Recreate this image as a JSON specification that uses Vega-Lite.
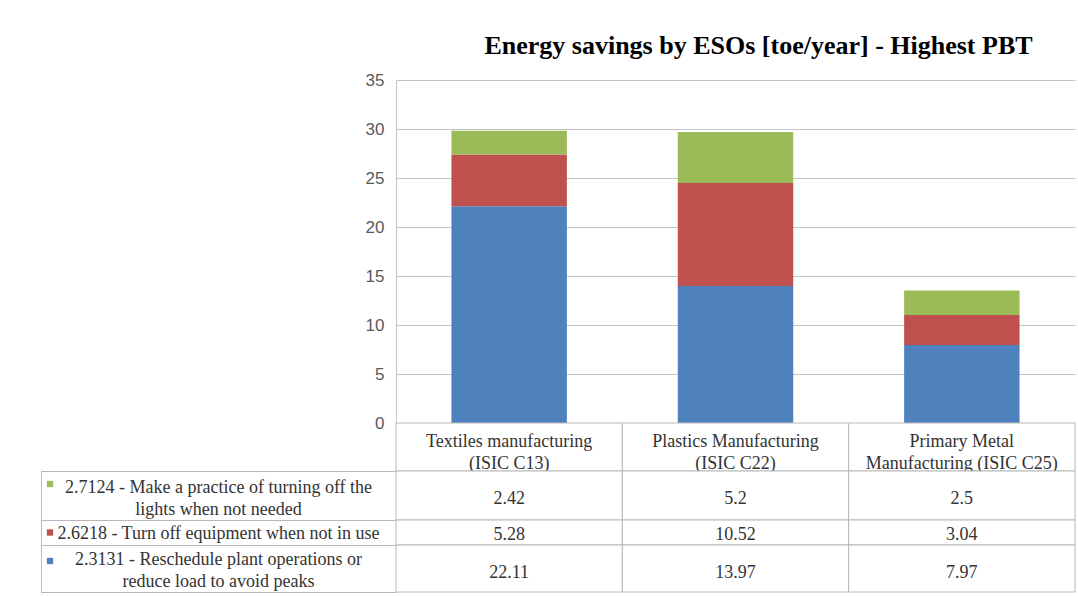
{
  "$schema": "https://vega.github.io/schema/vega-lite/v6.json",
  "background": "white",
  "padding": {"left": 40, "top": 33, "right": 2, "bottom": 0},
  "config": {
    "view": {"stroke": null},
    "font": "Liberation Serif",
    "text": {"font": "Liberation Serif", "fontSize": 18, "color": "#333333", "lineBreak": "\n", "lineHeight": 22}
  },
  "datasets": {
    "savings": [
      {"industry": "Textiles manufacturing\n(ISIC C13)", "eso": "2.3131 - Reschedule plant operations or\nreduce load to avoid peaks", "toe": 22.11},
      {"industry": "Textiles manufacturing\n(ISIC C13)", "eso": "2.6218 - Turn off equipment when not in use", "toe": 5.28},
      {"industry": "Textiles manufacturing\n(ISIC C13)", "eso": "2.7124 - Make a practice of turning off the\nlights when not needed", "toe": 2.42},
      {"industry": "Plastics Manufacturing\n(ISIC C22)", "eso": "2.3131 - Reschedule plant operations or\nreduce load to avoid peaks", "toe": 13.97},
      {"industry": "Plastics Manufacturing\n(ISIC C22)", "eso": "2.6218 - Turn off equipment when not in use", "toe": 10.52},
      {"industry": "Plastics Manufacturing\n(ISIC C22)", "eso": "2.7124 - Make a practice of turning off the\nlights when not needed", "toe": 5.2},
      {"industry": "Primary Metal\nManufacturing (ISIC C25)", "eso": "2.3131 - Reschedule plant operations or\nreduce load to avoid peaks", "toe": 7.97},
      {"industry": "Primary Metal\nManufacturing (ISIC C25)", "eso": "2.6218 - Turn off equipment when not in use", "toe": 3.04},
      {"industry": "Primary Metal\nManufacturing (ISIC C25)", "eso": "2.7124 - Make a practice of turning off the\nlights when not needed", "toe": 2.5}
    ]
  },
  "columns": 2,
  "spacing": 0,
  "bounds": "flush",
  "concat": [
    {
      "width": 355, "height": 343,
      "data": {"values": [{}]},
      "mark": {"type": "text"},
      "encoding": {"text": {"value": ""}}
    },
    {
      "width": 679, "height": 343,
      "title": {
        "text": "Energy savings by ESOs [toe/year] - Highest PBT",
        "font": "Liberation Serif", "fontSize": 26, "fontWeight": "bold", "color": "#000000",
        "anchor": "middle", "dx": 23, "offset": 12
      },
      "data": {"name": "savings"},
      "mark": {"type": "bar", "width": {"band": 0.51}},
      "encoding": {
        "x": {"field": "industry", "type": "nominal", "sort": null,
              "scale": {"paddingInner": 0, "paddingOuter": 0}, "axis": null},
        "y": {"field": "toe", "type": "quantitative", "stack": "zero",
              "scale": {"domain": [0, 35], "nice": false},
              "axis": {"values": [0, 5, 10, 15, 20, 25, 30, 35], "title": null, "grid": true,
                       "gridColor": "#c4c4c4", "domainColor": "#c4c4c4", "ticks": false,
                       "labelFont": "Liberation Sans", "labelFontSize": 17, "labelColor": "#595959",
                       "labelPadding": 12}},
        "order": {"field": "eso", "sort": "ascending"},
        "color": {"field": "eso", "type": "nominal", "legend": null,
                  "scale": {"domain": [
                    "2.3131 - Reschedule plant operations or\nreduce load to avoid peaks",
                    "2.6218 - Turn off equipment when not in use",
                    "2.7124 - Make a practice of turning off the\nlights when not needed"],
                    "range": ["#4F81BD", "#C0504D", "#9BBB59"]}}
      }
    },
    {
      "width": 355, "height": 48,
      "data": {"values": [{}]},
      "mark": {"type": "text"},
      "encoding": {"text": {"value": ""}}
    },
    {
      "width": 679, "height": 48,
      "data": {"name": "savings"},
      "transform": [{"filter": "indexof(datum.eso, '2.3131') === 0"}],
      "encoding": {
        "x": {"field": "industry", "type": "nominal", "sort": null,
              "scale": {"paddingInner": 0, "paddingOuter": 0}, "axis": null}
      },
      "layer": [
        {"mark": {"type": "rect", "fill": "white", "stroke": "#b8b8b8", "strokeWidth": 1},
         "encoding": {"y": {"value": 0}, "y2": {"value": "height"}}},
        {"mark": {"type": "text", "dy": -5}, "encoding": {"text": {"field": "industry"}}}
      ]
    },
    {
      "width": 355, "height": 49,
      "view": {"stroke": "#b8b8b8"},
      "data": {"name": "savings"},
      "transform": [{"filter": "indexof(datum.eso, '2.7124') === 0 && indexof(datum.industry, 'Textiles') === 0"}],
      "layer": [
        {"mark": {"type": "square", "size": 40, "filled": true, "opacity": 1},
         "encoding": {"x": {"value": 9}, "y": {"value": 13},
                      "color": {"field": "eso", "type": "nominal", "legend": null,
                                "scale": {"domain": [
                                  "2.3131 - Reschedule plant operations or\nreduce load to avoid peaks",
                                  "2.6218 - Turn off equipment when not in use",
                                  "2.7124 - Make a practice of turning off the\nlights when not needed"],
                                  "range": ["#4F81BD", "#C0504D", "#9BBB59"]}}}},
        {"mark": {"type": "text", "dy": -8},
         "encoding": {"x": {"field": "eso", "type": "nominal", "axis": null,
                            "scale": {"paddingInner": 0, "paddingOuter": 0}},
                      "text": {"field": "eso"}}}
      ]
    },
    {
      "width": 679, "height": 49,
      "data": {"name": "savings"},
      "transform": [{"filter": "indexof(datum.eso, '2.7124') === 0"}],
      "encoding": {
        "x": {"field": "industry", "type": "nominal", "sort": null,
              "scale": {"paddingInner": 0, "paddingOuter": 0}, "axis": null}
      },
      "layer": [
        {"mark": {"type": "rect", "fill": "white", "stroke": "#b8b8b8", "strokeWidth": 1},
         "encoding": {"y": {"value": 0}, "y2": {"value": "height"}}},
        {"mark": {"type": "text", "dy": 3}, "encoding": {"text": {"field": "toe", "type": "quantitative", "format": "~g"}}}
      ]
    },
    {
      "width": 355, "height": 25,
      "view": {"stroke": "#b8b8b8"},
      "data": {"name": "savings"},
      "transform": [{"filter": "indexof(datum.eso, '2.6218') === 0 && indexof(datum.industry, 'Textiles') === 0"}],
      "layer": [
        {"mark": {"type": "square", "size": 40, "filled": true, "opacity": 1},
         "encoding": {"x": {"value": 9},
                      "color": {"field": "eso", "type": "nominal", "legend": null,
                                "scale": {"domain": [
                                  "2.3131 - Reschedule plant operations or\nreduce load to avoid peaks",
                                  "2.6218 - Turn off equipment when not in use",
                                  "2.7124 - Make a practice of turning off the\nlights when not needed"],
                                  "range": ["#4F81BD", "#C0504D", "#9BBB59"]}}}},
        {"mark": {"type": "text", "dy": 1},
         "encoding": {"x": {"field": "eso", "type": "nominal", "axis": null,
                            "scale": {"paddingInner": 0, "paddingOuter": 0}},
                      "text": {"field": "eso"}}}
      ]
    },
    {
      "width": 679, "height": 25,
      "data": {"name": "savings"},
      "transform": [{"filter": "indexof(datum.eso, '2.6218') === 0"}],
      "encoding": {
        "x": {"field": "industry", "type": "nominal", "sort": null,
              "scale": {"paddingInner": 0, "paddingOuter": 0}, "axis": null}
      },
      "layer": [
        {"mark": {"type": "rect", "fill": "white", "stroke": "#b8b8b8", "strokeWidth": 1},
         "encoding": {"y": {"value": 0}, "y2": {"value": "height"}}},
        {"mark": {"type": "text", "dy": 2}, "encoding": {"text": {"field": "toe", "type": "quantitative", "format": "~g"}}}
      ]
    },
    {
      "width": 355, "height": 47,
      "view": {"stroke": "#b8b8b8"},
      "data": {"name": "savings"},
      "transform": [{"filter": "indexof(datum.eso, '2.3131') === 0 && indexof(datum.industry, 'Textiles') === 0"}],
      "layer": [
        {"mark": {"type": "square", "size": 40, "filled": true, "opacity": 1},
         "encoding": {"x": {"value": 9}, "y": {"value": 16},
                      "color": {"field": "eso", "type": "nominal", "legend": null,
                                "scale": {"domain": [
                                  "2.3131 - Reschedule plant operations or\nreduce load to avoid peaks",
                                  "2.6218 - Turn off equipment when not in use",
                                  "2.7124 - Make a practice of turning off the\nlights when not needed"],
                                  "range": ["#4F81BD", "#C0504D", "#9BBB59"]}}}},
        {"mark": {"type": "text", "dy": -9},
         "encoding": {"x": {"field": "eso", "type": "nominal", "axis": null,
                            "scale": {"paddingInner": 0, "paddingOuter": 0}},
                      "text": {"field": "eso"}}}
      ]
    },
    {
      "width": 679, "height": 47,
      "data": {"name": "savings"},
      "transform": [{"filter": "indexof(datum.eso, '2.3131') === 0"}],
      "encoding": {
        "x": {"field": "industry", "type": "nominal", "sort": null,
              "scale": {"paddingInner": 0, "paddingOuter": 0}, "axis": null}
      },
      "layer": [
        {"mark": {"type": "rect", "fill": "white", "stroke": "#b8b8b8", "strokeWidth": 1},
         "encoding": {"y": {"value": 0}, "y2": {"value": "height"}}},
        {"mark": {"type": "text", "dy": 4}, "encoding": {"text": {"field": "toe", "type": "quantitative", "format": "~g"}}}
      ]
    }
  ]
}
